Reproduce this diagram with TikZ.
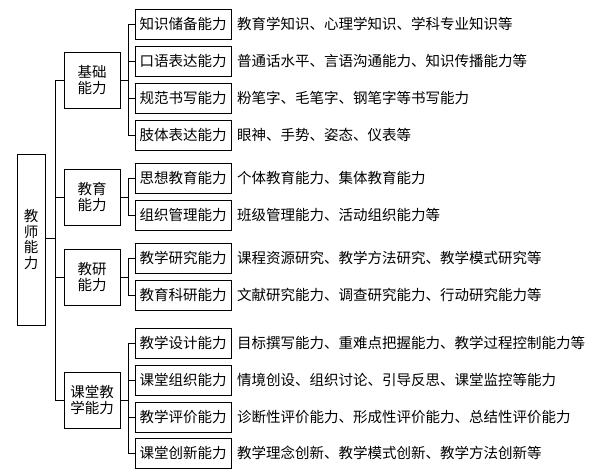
\documentclass[tikz,border=0pt]{standalone}
\usepackage{fontspec}
\setmainfont{Noto Sans CJK SC}
\begin{document}
\begin{tikzpicture}[x=1pt,y=-1pt,
  box/.style={draw,line width=1pt,inner sep=0pt,align=center,font=\fontsize{14.5}{16.5}\selectfont},
  rootbox/.style={box,minimum width=28pt,minimum height=171pt,font=\fontsize{14.5}{15.5}\selectfont},
  catbox/.style={box,minimum width=56pt,minimum height=56pt},
  itembox/.style={box,minimum width=96pt,minimum height=30pt},
  desc/.style={anchor=west,inner sep=0pt,font=\fontsize{14.5}{16}\selectfont},
  conn/.style={line width=1pt}]
\useasboundingbox (0,0) rectangle (604,474);
\node[rootbox] (root) at (31,239.5) {教\\师\\能\\力};
\coordinate (b0) at (55,238);
\node[catbox] (c1) at (92,80) {基础\\能力};
\node[catbox] (c2) at (92,197) {教育\\能力};
\node[catbox] (c3) at (92,277) {教研\\能力};
\node[catbox] (c4) at (92,400) {课堂教\\学能力};
\coordinate (b1) at (128,0);
\node[itembox] (t1) at (183,24) {知识储备能力};
\node[itembox] (t2) at (183,61) {口语表达能力};
\node[itembox] (t3) at (183,98) {规范书写能力};
\node[itembox] (t4) at (183,135) {肢体表达能力};
\node[itembox] (t5) at (183,178) {思想教育能力};
\node[itembox] (t6) at (183,215) {组织管理能力};
\node[itembox] (t7) at (183,258) {教学研究能力};
\node[itembox] (t8) at (183,295) {教育科研能力};
\node[itembox] (t9) at (183,343) {教学设计能力};
\node[itembox] (t10) at (183,380) {课堂组织能力};
\node[itembox] (t11) at (183,417) {教学评价能力};
\node[itembox] (t12) at (183,453) {课堂创新能力};
\node[desc] (d1) at (237,24) {教育学知识、心理学知识、学科专业知识等};
\node[desc] (d2) at (237,61) {普通话水平、言语沟通能力、知识传播能力等};
\node[desc] (d3) at (237,98) {粉笔字、毛笔字、钢笔字等书写能力};
\node[desc] (d4) at (237,135) {眼神、手势、姿态、仪表等};
\node[desc] (d5) at (237,178) {个体教育能力、集体教育能力};
\node[desc] (d6) at (237,215) {班级管理能力、活动组织能力等};
\node[desc] (d7) at (237,258) {课程资源研究、教学方法研究、教学模式研究等};
\node[desc] (d8) at (237,295) {文献研究能力、调查研究能力、行动研究能力等};
\node[desc] (d9) at (237,343) {目标撰写能力、重难点把握能力、教学过程控制能力等};
\node[desc] (d10) at (237,380) {情境创设、组织讨论、引导反思、课堂监控等能力};
\node[desc] (d11) at (237,417) {诊断性评价能力、形成性评价能力、总结性评价能力};
\node[desc] (d12) at (237,453) {教学理念创新、教学模式创新、教学方法创新等};
% root connectors
\draw[conn] (root.east |- b0) -- (b0);
\draw[conn] (b0 |- c1) -- (b0 |- c4);
\foreach \c in {c1,c2,c3,c4} \draw[conn] (b0 |- \c) -- (\c.west);
% category connectors
\draw[conn] (c1.east) -- (c1.east -| b1);
\draw[conn] (b1 |- t1) -- (b1 |- t4);
\draw[conn] (c2.east) -- (c2.east -| b1);
\draw[conn] (b1 |- t5) -- (b1 |- t6);
\draw[conn] (c3.east) -- (c3.east -| b1);
\draw[conn] (b1 |- t7) -- (b1 |- t8);
\draw[conn] (c4.east) -- (c4.east -| b1);
\draw[conn] (b1 |- t9) -- (b1 |- t12);
\foreach \t in {t1,t2,t3,t4,t5,t6,t7,t8,t9,t10,t11,t12} \draw[conn] (b1 |- \t) -- (\t.west);
\end{tikzpicture}
\end{document}
